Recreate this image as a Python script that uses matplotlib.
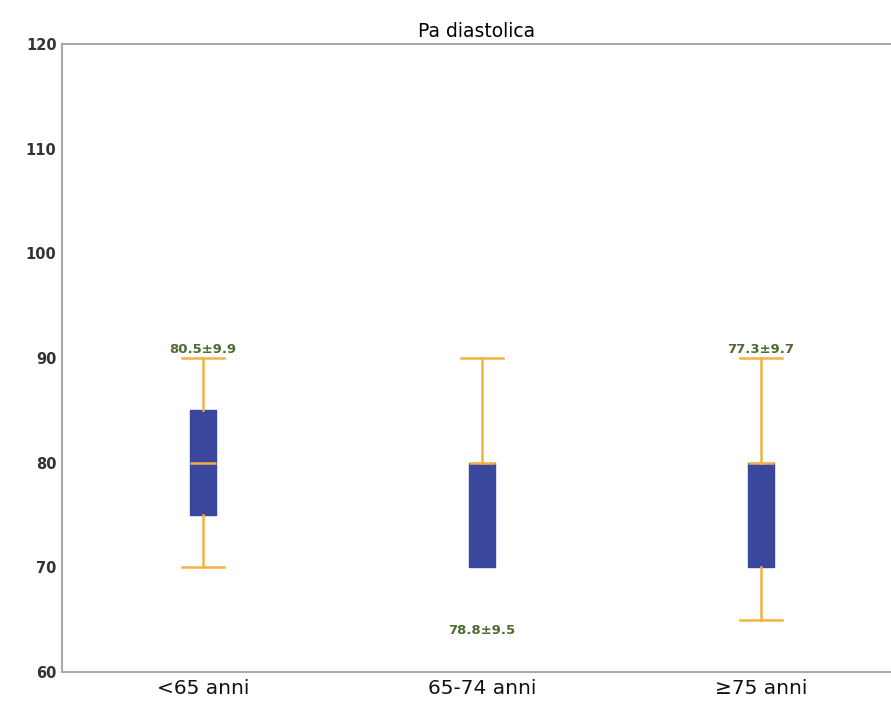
import matplotlib.pyplot as plt

# Diastolic blood pressure by age group
groups = ['<65 anni', '65-74 anni', '≥75 anni']
whislo = [70, 70, 65]
q1 = [75, 70, 70]
medians = [80, 80, 80]
q3 = [85, 80, 80]
whishi = [90, 90, 90]
annotations = ['80.5±9.9', '78.8±9.5', '77.3±9.7']
annot_y = [90.8, 64.0, 90.8]

stats = []
for i in range(len(groups)):
    stats.append({'whislo': whislo[i], 'q1': q1[i], 'med': medians[i],
                  'q3': q3[i], 'whishi': whishi[i], 'fliers': []})

fig = plt.figure(figsize=(8.91, 7.01), dpi=100)
ax = fig.add_axes([0.0696, 0.0414, 0.9304, 0.8958])

orange = '#f5b244'
bp = ax.bxp(stats, positions=range(len(groups)), widths=0.095, patch_artist=True,
            showfliers=False,
            boxprops=dict(facecolor='#39479c', edgecolor='#39479c'),
            medianprops=dict(color=orange, linewidth=1.8),
            whiskerprops=dict(color=orange, linewidth=1.8),
            capprops=dict(color=orange, linewidth=1.8),
            capwidths=0.15)
# no lower whisker for the middle group (whisker equals Q1)
for i in range(len(groups)):
    if whislo[i] == q1[i]:
        bp['caps'][2 * i].set_visible(False)
        bp['whiskers'][2 * i].set_visible(False)

for i, txt in enumerate(annotations):
    ax.text(i, annot_y[i], txt, ha='center', va='center', fontsize=9.5,
            fontweight='bold', color='#4e6b34', family='DejaVu Sans')

ax.set_xlim(-0.505, 2.466)
ax.set_ylim(60, 120)
ax.set_yticks([60, 70, 80, 90, 100, 110, 120])
ax.set_xticks(range(len(groups)))
ax.set_xticklabels(groups, fontsize=14.5, family='DejaVu Sans', color='#111111')
for lbl in ax.get_yticklabels():
    lbl.set_fontweight('bold')
    lbl.set_family('DejaVu Sans')
    lbl.set_fontsize(10.5)
    lbl.set_color('#333333')
ax.tick_params(axis='both', length=0, pad=5)
ax.tick_params(axis='y', pad=4)

for s in ['left', 'top', 'bottom']:
    ax.spines[s].set_color('#aaaaaa')
    ax.spines[s].set_linewidth(1.5)
ax.spines['right'].set_visible(False)

ax.set_title('Pa diastolica', fontsize=13.5, pad=5)

fig.savefig('out.png', dpi=100)
